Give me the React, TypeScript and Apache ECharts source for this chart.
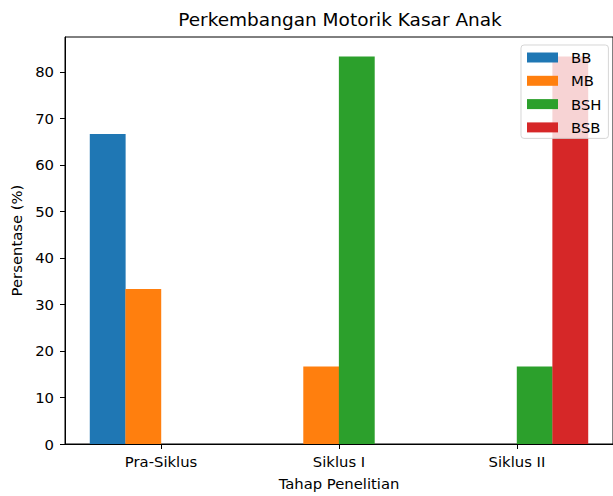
import React, { useEffect, useRef } from "react";
import * as echarts from "echarts";

const categories = ["Pra-Siklus", "Siklus I", "Siklus II"];
const seriesNames = ["BB", "MB", "BSH", "BSB"];
const valuesBB = [66.67, 0, 0];
const valuesMB = [33.33, 16.67, 0];
const valuesBSH = [0, 83.33, 16.67];
const valuesBSB = [0, 0, 83.33];
const yTicks = [0, 10, 20, 30, 40, 50, 60, 70, 80];
const xTicks = [0, 1, 2];

const colors = ["#1f77b4", "#ff7f0e", "#2ca02c", "#d62728"];
const BAR_W = 0.2;
const X_MIN = -0.54;
const X_MAX = 2.54;
const GRID_LEFT = 65;
const GRID_W = 552;
const FONT = "DejaVu Sans";
const FS = 14.8;

export default function App() {
  const ref = useRef<HTMLDivElement>(null);
  useEffect(() => {
    if (!ref.current) return;
    const chart = echarts.init(ref.current, null, { renderer: "svg" });
    const allValues = [valuesBB, valuesMB, valuesBSH, valuesBSB];
    const pxPerUnit = GRID_W / (X_MAX - X_MIN);
    const series = allValues.map((vals, si) => ({
      name: seriesNames[si],
      type: "bar",
      barWidth: BAR_W * pxPerUnit,
      barGap: "-100%",
      itemStyle: { color: colors[si] },
      data: vals.map((v, ci) => [ci + (si - 1.5) * BAR_W, v]),
    }));
    chart.setOption({
      animation: false,
      textStyle: { fontFamily: FONT },
      title: {
        text: "Perkembangan Motorik Kasar Anak",
        left: 340,
        top: 10,
        padding: 0,
        textAlign: "center",
        textStyle: { fontFamily: FONT, fontSize: 18.5, fontWeight: "normal", color: "#000" },
      },
      legend: {
        orient: "vertical",
        left: 521,
        top: 45,
        padding: [5, 7, 3.5, 6],
        itemWidth: 31,
        itemHeight: 10,
        itemGap: 8.3,
        icon: "rect",
        backgroundColor: "rgba(255,255,255,0.8)",
        borderColor: "rgba(204,204,204,0.8)",
        borderWidth: 1,
        borderRadius: 3,
        textStyle: { fontFamily: FONT, fontSize: FS, color: "#000", lineHeight: 15, padding: [0, 0, 0, 8] },
        data: seriesNames,
      },
      grid: {
        left: GRID_LEFT,
        top: 37,
        width: GRID_W,
        height: 411,
        show: true,
        borderColor: "#000",
        borderWidth: 1,
        backgroundColor: "transparent",
        containLabel: false,
      },
      xAxis: {
        type: "value",
        min: X_MIN,
        max: X_MAX,
        splitLine: { show: false },
        axisLine: { show: true, onZero: false, lineStyle: { color: "#000", width: 1 } },
        axisTick: { show: true, length: 5, customValues: xTicks, lineStyle: { color: "#000" } },
        axisLabel: {
          customValues: xTicks,
          formatter: (v: number) => categories[Math.round(v)] ?? "",
          fontFamily: FONT,
          fontSize: FS,
          color: "#000",
          margin: 10,
        },
        name: "Tahap Penelitian",
        nameLocation: "middle",
        nameGap: 32,
        nameTextStyle: { fontFamily: FONT, fontSize: FS, color: "#000" },
      },
      yAxis: {
        type: "value",
        min: 0,
        max: 87.5,
        splitLine: { show: false },
        axisLine: { show: true, onZero: false, lineStyle: { color: "#000", width: 1 } },
        axisTick: { show: true, length: 5, customValues: yTicks, lineStyle: { color: "#000" } },
        axisLabel: {
          customValues: yTicks,
          fontFamily: FONT,
          fontSize: FS,
          color: "#000",
          margin: 11,
        },
        name: "Persentase (%)",
        nameLocation: "middle",
        nameRotate: 90,
        nameGap: 40,
        nameTextStyle: { fontFamily: FONT, fontSize: FS, color: "#000" },
      },
      series,
    });
    return () => chart.dispose();
  }, []);
  return (
    <div
      ref={ref}
      style={{ position: "absolute", left: 0, top: 0, width: 613, height: 496 }}
    />
  );
}
